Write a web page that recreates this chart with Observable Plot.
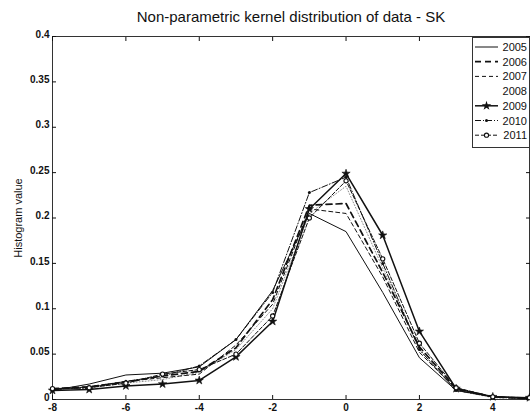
<!DOCTYPE html>
<html>
<head>
<meta charset="utf-8">
<script src="https://cdn.jsdelivr.net/npm/d3@7"></script>
<script src="https://cdn.jsdelivr.net/npm/@observablehq/plot@0.6"></script>
<style>
  html, body { margin: 0; padding: 0; background: #fff; }
  #wrap { position: relative; width: 530px; height: 416px; font-family: "Liberation Sans", Arial, sans-serif; }
  #title { position: absolute; left: 52px; width: 478px; top: 8px; text-align: center; font-size: 15px; color: #111; }
  #legend { position: absolute; left: 472px; top: 37px; }
</style>
</head>
<body>
<div id="wrap">
  <div id="chart"></div>
  <div id="title">Non-parametric kernel distribution of data - SK</div>
  <div id="legend"></div>
</div>
<script>
const xs    = [-8, -7, -6, -5, -4, -3, -2, -1, 0, 1, 2, 3, 4, 5];
const y2005 = [0.010, 0.017, 0.027, 0.029, 0.036, 0.066, 0.120, 0.205, 0.185, 0.118, 0.046, 0.010, 0.003, 0.001];
const y2006 = [0.012, 0.014, 0.019, 0.026, 0.031, 0.057, 0.110, 0.214, 0.216, 0.140, 0.058, 0.012, 0.003, 0.001];
const y2007 = [0.011, 0.014, 0.020, 0.024, 0.028, 0.060, 0.105, 0.210, 0.205, 0.135, 0.052, 0.011, 0.003, 0.001];
const y2008 = [0.012, 0.013, 0.018, 0.022, 0.030, 0.055, 0.100, 0.205, 0.235, 0.145, 0.055, 0.010, 0.002, 0.001];
const y2009 = [0.010, 0.011, 0.015, 0.017, 0.021, 0.047, 0.086, 0.210, 0.249, 0.181, 0.075, 0.012, 0.003, 0.002];
const y2010 = [0.011, 0.013, 0.020, 0.026, 0.037, 0.066, 0.118, 0.228, 0.245, 0.150, 0.055, 0.010, 0.003, 0.001];
const y2011 = [0.012, 0.013, 0.018, 0.028, 0.033, 0.050, 0.092, 0.200, 0.241, 0.155, 0.062, 0.013, 0.003, 0.002];
const years = ["2005", "2006", "2007", "2008", "2009", "2010", "2011"];
const xTicks = [-8, -6, -4, -2, 0, 2, 4];
const yTicks = [0, 0.05, 0.1, 0.15, 0.2, 0.25, 0.3, 0.35, 0.4];

const seriesValues = [y2005, y2006, y2007, y2008, y2009, y2010, y2011];
const styles = {
  "2005": {dash: null, width: 1, symbol: null},
  "2006": {dash: "6,4", width: 1.7, symbol: null},
  "2007": {dash: "4,3", width: 1, symbol: null},
  "2008": {dash: "1,2", width: 0.8, symbol: null, opacity: 0.6},
  "2009": {dash: null, width: 1.5, symbol: "star"},
  "2010": {dash: "6,2,1,2", width: 1, symbol: "dot"},
  "2011": {dash: "4,2", width: 1, symbol: "circle"}
};

const table = years.map((yr, i) => xs.map((x, j) => ({year: yr, x, y: seriesValues[i][j]})));

const marks = [];
years.forEach((yr, i) => {
  const s = styles[yr];
  marks.push(Plot.line(table[i], {x: "x", y: "y", stroke: "#111", strokeWidth: s.width,
    strokeDasharray: s.dash, strokeOpacity: s.opacity ?? 1}));
  if (s.symbol === "star") marks.push(Plot.dot(table[i], {x: "x", y: "y", symbol: "star", r: 2.6, fill: "#111", stroke: "#111", strokeWidth: 0.6}));
  if (s.symbol === "dot") marks.push(Plot.dot(table[i], {x: "x", y: "y", r: 1.5, fill: "#111", stroke: "none"}));
  if (s.symbol === "circle") marks.push(Plot.dot(table[i], {x: "x", y: "y", r: 2.1, fill: "#fff", stroke: "#111", strokeWidth: 1.1}));
});

const plot = Plot.plot({
  width: 530, height: 416,
  marginTop: 36, marginBottom: 17, marginLeft: 52, marginRight: 1,
  style: {fontFamily: "'Liberation Sans', Arial, sans-serif", fontSize: "10px", color: "#111", background: "#fff"},
  x: {domain: [-8, 5]},
  y: {domain: [0, 0.4]},
  marks: [
    Plot.frame({stroke: "#333", strokeWidth: 1}),
    Plot.axisX(xTicks, {anchor: "bottom", tickSize: -4, tickPadding: 8, tickFormat: d => String(d), fontWeight: "bold", label: null}),
    Plot.axisX(xTicks, {anchor: "top", tickSize: -4, tickFormat: () => "", label: null}),
    Plot.axisY(yTicks, {anchor: "left", tickSize: -4, tickFormat: () => "", label: null}),
    Plot.axisY(yTicks, {anchor: "left", tickSize: 0, tickPadding: 3, dy: -2, tickFormat: d => String(d), fontWeight: "bold", label: null}),
    Plot.axisY({anchor: "left", ticks: [], label: "Histogram value", labelAnchor: "center", labelArrow: "none", labelOffset: 38, fontWeight: "normal", fontSize: 11, fill: "#111"}),
    Plot.axisY(yTicks, {anchor: "right", tickSize: -4, tickFormat: () => "", label: null}),
    ...marks
  ]
});
document.getElementById("chart").appendChild(plot);

// Legend
const lg = d3.select("#legend").append("svg").attr("width", 58).attr("height", 112);
lg.append("rect").attr("x", 0.5).attr("y", 0.5).attr("width", 57).attr("height", 110)
  .attr("fill", "#fff").attr("stroke", "#333");
years.forEach((yr, i) => {
  const s = styles[yr];
  const cy = 10 + i * 14.7;
  if (yr !== "2008") {
    lg.append("line").attr("x1", 3).attr("x2", 26).attr("y1", cy).attr("y2", cy)
      .attr("stroke", "#111").attr("stroke-width", s.width).attr("stroke-dasharray", s.dash);
  }
  if (s.symbol === "star") lg.append("path").attr("d", d3.symbol(d3.symbolStar, 28)()).attr("transform", `translate(14.5,${cy})`).attr("fill", "#111");
  if (s.symbol === "dot") lg.append("circle").attr("cx", 14.5).attr("cy", cy).attr("r", 1.5).attr("fill", "#111");
  if (s.symbol === "circle") lg.append("circle").attr("cx", 14.5).attr("cy", cy).attr("r", 2.1).attr("fill", "#fff").attr("stroke", "#111").attr("stroke-width", 1.1);
  lg.append("text").attr("x", 55).attr("y", cy + 4).attr("text-anchor", "end")
    .attr("font-family", "'Liberation Sans', Arial, sans-serif").attr("font-size", 11).attr("fill", "#111").text(yr);
});
</script>
</body>
</html>
